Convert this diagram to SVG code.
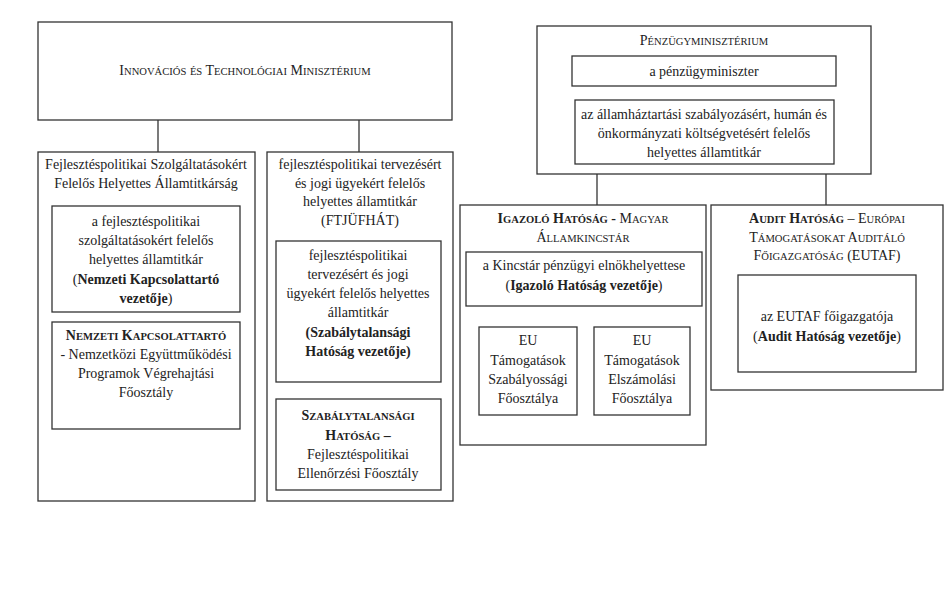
<svg xmlns="http://www.w3.org/2000/svg" width="952" height="607" viewBox="0 0 952 607">
<style>
rect{fill:#fff;stroke:#333;stroke-width:1.3}
.c line{stroke:#333;stroke-width:1.3}
text{font-family:"Liberation Serif","Times New Roman",serif;font-size:14px;fill:#222;text-anchor:middle}
.b{font-weight:bold}
.s{font-size:10.6px}
</style>
<rect x="0" y="0" width="952" height="607" style="stroke:none"/>
<g class="c" id="connectors">
<line x1="158" y1="120" x2="158" y2="152"/>
<line x1="359" y1="120" x2="359" y2="152"/>
<line x1="704" y1="86" x2="704" y2="100"/>
<line x1="597" y1="174" x2="597" y2="205"/>
<line x1="826" y1="174" x2="826" y2="205"/>
</g>
<g id="itm">
<rect x="38" y="22" width="414" height="98"/>
<text x="245" y="75">I<tspan class="s">NNOVÁCIÓS</tspan> <tspan class="s">ÉS</tspan> T<tspan class="s">ECHNOLÓGIAI</tspan> M<tspan class="s">INISZTÉRIUM</tspan></text>
</g>
<g id="left-col">
<rect x="38" y="152" width="217" height="349"/>
<text x="146" y="169">Fejlesztéspolitikai Szolgáltatásokért</text>
<text x="146" y="188">Felelős Helyettes Államtitkárság</text>
</g>
<g id="nk-vezeto">
<rect x="52" y="206" width="188" height="106"/>
<text x="146" y="226">a fejlesztéspolitikai</text>
<text x="146" y="245">szolgáltatásokért felelős</text>
<text x="146" y="264">helyettes államtitkár</text>
<text x="146" y="284">(<tspan class="b">Nemzeti Kapcsolattartó</tspan></text>
<text x="146" y="303"><tspan class="b">vezetője</tspan>)</text>
</g>
<g id="nk-foosztaly">
<rect x="52" y="322" width="188" height="107"/>
<text x="146" y="340" class="b">N<tspan class="s">EMZETI</tspan> K<tspan class="s">APCSOLATTARTÓ</tspan></text>
<text x="146" y="359">- Nemzetközi Együttműködési</text>
<text x="146" y="378">Programok Végrehajtási</text>
<text x="146" y="397">Főosztály</text>
</g>
<g id="mid-col">
<rect x="267" y="152" width="186" height="349"/>
<text x="360" y="169">fejlesztéspolitikai tervezésért</text>
<text x="360" y="188">és jogi ügyekért felelős</text>
<text x="360" y="206">helyettes államtitkár</text>
<text x="360" y="225">(FTJÜFHÁT)</text>
</g>
<g id="szh-vezeto">
<rect x="276" y="241" width="165" height="141"/>
<text x="358" y="260">fejlesztéspolitikai</text>
<text x="358" y="279">tervezésért és jogi</text>
<text x="358" y="298">ügyekért felelős helyettes</text>
<text x="358" y="317">államtitkár</text>
<text x="358" y="337" class="b">(Szabálytalansági</text>
<text x="358" y="356" class="b">Hatóság vezetője)</text>
</g>
<g id="szh-foosztaly">
<rect x="276" y="399" width="165" height="91"/>
<text x="358" y="420" class="b">S<tspan class="s">ZABÁLYTALANSÁGI</tspan></text>
<text x="358" y="440" class="b">H<tspan class="s">ATÓSÁG</tspan> –</text>
<text x="358" y="459">Fejlesztéspolitikai</text>
<text x="358" y="478">Ellenőrzési Főosztály</text>
</g>
<g id="pm">
<rect x="537" y="26" width="334" height="148"/>
<text x="704" y="45">P<tspan class="s">ÉNZÜGYMINISZTÉRIUM</tspan></text>
</g>
<g id="pm-miniszter">
<rect x="572" y="56" width="264" height="30"/>
<text x="704" y="76">a pénzügyminiszter</text>
</g>
<g id="pm-allamtitkar">
<rect x="575" y="100" width="259" height="64"/>
<text x="704" y="119">az államháztartási szabályozásért, humán és</text>
<text x="704" y="138">önkormányzati költségvetésért felelős</text>
<text x="704" y="157">helyettes államtitkár</text>
</g>
<g id="igazolo">
<rect x="460" y="205" width="246" height="240"/>
<text x="583" y="223"><tspan class="b">I<tspan class="s">GAZOLÓ</tspan> H<tspan class="s">ATÓSÁG</tspan> -</tspan> M<tspan class="s">AGYAR</tspan></text>
<text x="583" y="242">Á<tspan class="s">LLAMKINCSTÁR</tspan></text>
</g>
<g id="igazolo-vezeto">
<rect x="466" y="252" width="236" height="54"/>
<text x="584" y="270">a Kincstár pénzügyi elnökhelyettese</text>
<text x="584" y="290">(<tspan class="b">Igazoló Hatóság vezetője</tspan>)</text>
</g>
<g id="eu-szabalyossagi">
<rect x="479" y="327" width="98" height="88"/>
<text x="528" y="345">EU</text>
<text x="528" y="365">Támogatások</text>
<text x="528" y="384">Szabályossági</text>
<text x="528" y="403">Főosztálya</text>
</g>
<g id="eu-elszamolasi">
<rect x="594" y="327" width="96" height="88"/>
<text x="642" y="345">EU</text>
<text x="642" y="365">Támogatások</text>
<text x="642" y="384">Elszámolási</text>
<text x="642" y="403">Főosztálya</text>
</g>
<g id="audit">
<rect x="711" y="205" width="232" height="185"/>
<text x="827" y="223"><tspan class="b">A<tspan class="s">UDIT</tspan> H<tspan class="s">ATÓSÁG</tspan></tspan> – E<tspan class="s">URÓPAI</tspan></text>
<text x="827" y="242">T<tspan class="s">ÁMOGATÁSOKAT</tspan> A<tspan class="s">UDITÁLÓ</tspan></text>
<text x="827" y="260">F<tspan class="s">ŐIGAZGATÓSÁG</tspan> (EUTAF)</text>
</g>
<g id="audit-vezeto">
<rect x="738" y="275" width="178" height="97"/>
<text x="827" y="321">az EUTAF főigazgatója</text>
<text x="827" y="341">(<tspan class="b">Audit Hatóság vezetője</tspan>)</text>
</g>
</svg>
